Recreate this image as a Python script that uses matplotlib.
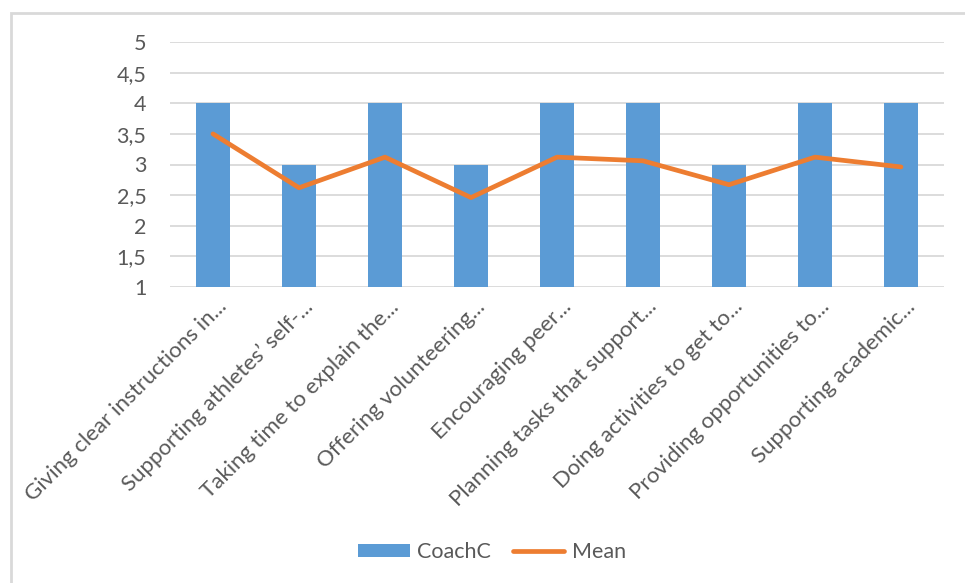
import numpy as np
import matplotlib
matplotlib.use('Agg')
import matplotlib.pyplot as plt
import matplotlib.transforms as mtransforms
from matplotlib.patches import Rectangle

plt.rcParams['font.family'] = ['Lato', 'DejaVu Sans']

categories = ['Giving clear instructions in...', 'Supporting athletes\u2019 self-...',
              'Taking time to explain the...', 'Offering volunteering...',
              'Encouraging peer...', 'Planning tasks that support...',
              'Doing activities to get to...', 'Providing opportunities to...',
              'Supporting academic...']
coach_c = [4, 3, 4, 3, 4, 4, 3, 4, 4]
mean_vals = [3.50, 2.62, 3.12, 2.46, 3.12, 3.06, 2.67, 3.12, 2.96]

txt_col = '#595959'
blue = '#5B9BD5'
orange = '#ED7D31'

fig = plt.figure(figsize=(9.65, 5.83), dpi=100)
# chart area border (only left and top show in the reference)
fig.patches.append(Rectangle((11/965, -0.1), 1.2, 1 - 13/583 + 0.1,
                             transform=fig.transFigure, fill=False,
                             edgecolor='#D9D9D9', linewidth=2))

ax = fig.add_axes([170/965, 1 - 287/583, (944 - 170)/965, (287 - 42)/583])
x = np.arange(len(categories))
bars = ax.bar(x, np.array(coach_c) - 1, bottom=1, width=0.4, color=blue,
              label='CoachC', zorder=2)
line, = ax.plot(x, mean_vals, color=orange, linewidth=3.4, label='Mean', zorder=3,
                solid_joinstyle='round', solid_capstyle='round')

ax.set_ylim(1, 5)
ax.set_xlim(-0.5, len(categories) - 0.5)
yt = np.arange(1, 5.01, 0.5)
ax.set_yticks(yt)
ax.set_yticklabels([('%g' % v).replace('.', ',') for v in yt])
ax.yaxis.grid(True, color='#D9D9D9', linewidth=1.3, zorder=0)
ax.set_axisbelow(True)
for s in ax.spines.values():
    s.set_visible(False)
ax.tick_params(axis='both', length=0, labelsize=15.5, colors=txt_col)
ax.tick_params(axis='y', pad=17)

ax.set_xticks(x)
ax.set_xticklabels(categories, rotation=45, ha='right', va='center',
                   rotation_mode='anchor', fontsize=16, color=txt_col)
ax.tick_params(axis='x', pad=12)
shift = mtransforms.ScaledTranslation(11/100, 0, fig.dpi_scale_trans)
for lab in ax.get_xticklabels():
    lab.set_transform(lab.get_transform() + shift)

leg = fig.legend([bars, line], ['CoachC', 'Mean'], loc='center',
                 bbox_to_anchor=(492/965, 1 - 552/583), ncol=2,
                 frameon=False, fontsize=15.5, handlelength=2.4, handleheight=0.6,
                 columnspacing=1.0, handletextpad=0.35)
for t in leg.get_texts():
    t.set_color(txt_col)

fig.savefig('out.png', dpi=100)
